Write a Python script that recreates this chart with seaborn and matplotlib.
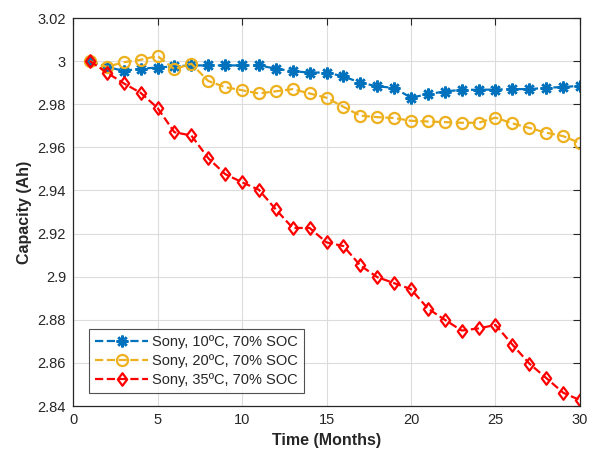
import numpy as np
import pandas as pd
import matplotlib
matplotlib.use("Agg")
import matplotlib.pyplot as plt
from matplotlib.path import Path
import seaborn as sns

months = list(range(1, 31))
cap_10C = [3.000, 2.9973, 2.9955, 2.9965, 2.9970, 2.9976, 2.9980, 2.9980, 2.9980, 2.9980,
           2.9980, 2.9965, 2.9953, 2.9947, 2.9947, 2.9929, 2.9900, 2.9883, 2.9876, 2.9830,
           2.9847, 2.9859, 2.9867, 2.9867, 2.9868, 2.9870, 2.9870, 2.9876, 2.9880, 2.9885]
cap_20C = [3.000, 2.9973, 2.9995, 3.0006, 3.0024, 2.9962, 2.9988, 2.9908, 2.9879, 2.9865,
           2.9850, 2.9860, 2.9870, 2.9850, 2.9830, 2.9788, 2.9747, 2.9740, 2.9736, 2.9723,
           2.9720, 2.9717, 2.9714, 2.9714, 2.9738, 2.9711, 2.9690, 2.9668, 2.9652, 2.9620]
cap_35C = [3.000, 2.9947, 2.9897, 2.9853, 2.9783, 2.9670, 2.9655, 2.9550, 2.9476, 2.9438,
           2.9403, 2.9312, 2.9226, 2.9226, 2.9159, 2.9142, 2.9052, 2.8998, 2.8970, 2.8942,
           2.8852, 2.8800, 2.8750, 2.8760, 2.8776, 2.8685, 2.8597, 2.8530, 2.8462, 2.8427]
labels = ["Sony, 10ºC, 70% SOC", "Sony, 20ºC, 70% SOC", "Sony, 35ºC, 70% SOC"]
x_ticks = [0, 5, 10, 15, 20, 25, 30]
y_ticks = [2.84, 2.86, 2.88, 2.90, 2.92, 2.94, 2.96, 2.98, 3.00, 3.02]
y_tick_labels = ["2.84", "2.86", "2.88", "2.9", "2.92", "2.94", "2.96", "2.98", "3", "3.02"]

sns.set_style("white")
plt.rcParams['font.family'] = ['Liberation Sans', 'DejaVu Sans']

fig = plt.figure(figsize=(5.92, 4.61), dpi=100)
ax = fig.add_axes([73/592, 1-406/461, (580-73)/592, (406-18)/461])

diamond = Path([(0, 1), (0.75, 0), (0, -1), (-0.75, 0), (0, 1)],
               [Path.MOVETO, Path.LINETO, Path.LINETO, Path.LINETO, Path.CLOSEPOLY])

styles = [
    dict(color="#0072BD", marker=(8, 2, 0), ms=8.5, mew=1.8, mfc="#0072BD", mec="#0072BD"),
    dict(color="#EDB120", marker="o", ms=8, mew=1.6, mfc="none", mec="#EDB120"),
    dict(color="#FF0000", marker=diamond, ms=9, mew=1.6, mfc="none", mec="#FF0000"),
]
for vals, lab, st in zip([cap_10C, cap_20C, cap_35C], labels, styles):
    df = pd.DataFrame({"Month": months, "Capacity": vals})
    sns.lineplot(data=df, x="Month", y="Capacity", ax=ax, label=lab,
                 color=st["color"], marker=st["marker"], markersize=st["ms"],
                 markeredgewidth=st["mew"], markerfacecolor=st["mfc"],
                 markeredgecolor=st["mec"], linestyle="--", linewidth=1.6,
                 dashes=(3.5, 2.5))

ax.set_xlim(0, 30)
ax.set_ylim(2.84, 3.02)
ax.set_xticks(x_ticks)
ax.set_yticks(y_ticks)
ax.set_yticklabels(y_tick_labels)
ax.grid(True, color="#dcdcdc", linewidth=0.8)
ax.set_axisbelow(True)
for s in ax.spines.values():
    s.set_color("#262626")
    s.set_linewidth(0.9)
ax.tick_params(direction="in", length=5, width=0.8, top=True, right=True,
               labelsize=10.5, colors="#262626", pad=5)
ax.set_xlabel("Time (Months)", fontsize=11.5, fontweight="bold", color="#262626")
ax.set_ylabel("Capacity (Ah)", fontsize=11.5, fontweight="bold", color="#262626")

leg = ax.legend(loc="lower left", bbox_to_anchor=(0.018, 0.015), fontsize=10.5,
                frameon=True, fancybox=False, edgecolor="#262626",
                handlelength=3.6, borderpad=0.4, labelspacing=0.35, handletextpad=0.3)
leg.get_frame().set_linewidth(0.8)

fig.savefig("out.png", dpi=100)
